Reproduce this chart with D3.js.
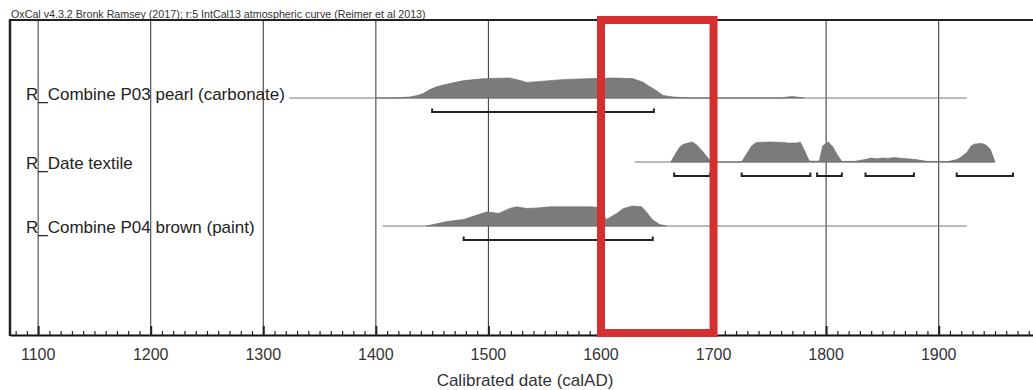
<!DOCTYPE html>
<html>
<head>
<meta charset="utf-8">
<script src="https://cdn.jsdelivr.net/npm/d3@7"></script>
<style>
  html, body { margin: 0; padding: 0; background: #fff; }
  svg { display: block; font-family: "Liberation Sans", Arial, sans-serif; }
</style>
</head>
<body>
<svg id="chart" width="1033" height="390"></svg>
<script>
// ---------- data ----------
const title = "OxCal v4.3.2 Bronk Ramsey (2017); r:5 IntCal13 atmospheric curve (Reimer et al 2013)";
const axisTitle = "Calibrated date (calAD)";
const rowLabels = ["R_Combine P03 pearl (carbonate)", "R_Date textile", "R_Combine P04 brown (paint)"];
const majorTicks = [1100, 1200, 1300, 1400, 1500, 1600, 1700, 1800, 1900];
const highlightRange = [1600, 1700];

// row 1: R_Combine P03 pearl (carbonate)
const p03Span = [1323, 1925];
const p03Years = [1400, 1415, 1430, 1437, 1442, 1448, 1454, 1463, 1477, 1492, 1501, 1519, 1528, 1534, 1546, 1557, 1569, 1593, 1610, 1628, 1637, 1643, 1649, 1655, 1664, 1679,
                  1760, 1765, 1770, 1775, 1780];
const p03Prob  = [0, 0, 0.05, 0.13, 0.22, 0.42, 0.56, 0.69, 0.86, 0.95, 0.98, 1.0, 0.88, 0.78, 0.83, 0.88, 0.93, 0.97, 1.0, 0.97, 0.8, 0.58, 0.38, 0.13, 0.05, 0,
                  0, 0.05, 0.07, 0.04, 0];
const p03Ranges = [[1450, 1647]];

// row 2: R_Date textile
const textileSpan = [1630, 1950];
const textileYears = [1662, 1665, 1670, 1673, 1676, 1681, 1685, 1690, 1695, 1698,
                      1725, 1729, 1734, 1738, 1750, 1762, 1766, 1774, 1777, 1781, 1785,
                      1790, 1794, 1797, 1802, 1806, 1810, 1814,
                      1825, 1836, 1840, 1845, 1850, 1855, 1860, 1866, 1872, 1880, 1890,
                      1908, 1916, 1919, 1925, 1929, 1932, 1938, 1942, 1946, 1950];
const textileProb  = [0, 0.3, 0.75, 0.88, 0.93, 1.0, 0.85, 0.55, 0.2, 0,
                      0, 0.38, 0.81, 0.98, 1.0, 0.98, 0.95, 0.95, 1.0, 0.55, 0.05,
                      0.04, 0.05, 0.81, 1.0, 0.75, 0.35, 0.03,
                      0.03, 0.14, 0.2, 0.16, 0.2, 0.18, 0.22, 0.19, 0.16, 0.12, 0.03,
                      0.02, 0.12, 0.21, 0.47, 0.81, 0.9, 0.93, 0.85, 0.62, 0];
const textileRanges = [[1665, 1697], [1725, 1786], [1792, 1814], [1835, 1878], [1916, 1966]];

// row 3: R_Combine P04 brown (paint)
const p04Span = [1406, 1925];
const p04Years = [1445, 1463, 1478, 1490, 1499, 1509, 1519, 1525, 1534, 1543, 1555, 1590, 1599, 1603, 1605, 1614, 1620, 1628, 1636, 1640, 1646, 1652, 1658];
const p04Prob  = [0, 0.22, 0.33, 0.55, 0.71, 0.63, 0.88, 0.96, 0.88, 0.9, 0.96, 0.96, 0.93, 0.47, 0.33, 0.63, 0.88, 1.0, 0.96, 0.72, 0.3, 0.08, 0];
const p04Ranges = [[1478, 1646]];

const rows = [
  { label: rowLabels[0], span: p03Span, years: p03Years, prob: p03Prob, ranges: p03Ranges, labelDy: 1.8 },
  { label: rowLabels[1], span: textileSpan, years: textileYears, prob: textileProb, ranges: textileRanges, labelDy: 7 },
  { label: rowLabels[2], span: p04Span, years: p04Years, prob: p04Prob, ranges: p04Ranges, labelDy: 7 }
];

// ---------- layout ----------
const svg = d3.select("#chart");
const frameLeft = 10, frameTop = 20, frameBottom = 335;
const x = d3.scaleLinear().domain([1075, 1990]).range([10, 1040]);
const yRow = d3.scalePoint().domain(rowLabels).range([98, 226]);
const h = d3.scaleLinear().domain([0, 1]).range([0, 20]);

// title
svg.append("text")
  .attr("x", 11).attr("y", 17.5)
  .attr("font-size", 10.7).attr("fill", "#333")
  .text(title);

// grid lines
svg.append("g").selectAll("line").data(majorTicks).join("line")
  .attr("x1", d => x(d)).attr("x2", d => x(d))
  .attr("y1", frameTop).attr("y2", frameBottom)
  .attr("stroke", "#444").attr("stroke-width", 1.1);

// rows
rows.forEach(r => {
  const y0 = yRow(r.label);
  const g = svg.append("g");
  // baseline
  g.append("line")
    .attr("x1", x(r.span[0])).attr("x2", x(r.span[1]))
    .attr("y1", y0).attr("y2", y0)
    .attr("stroke", "#777").attr("stroke-width", 1);
  // distribution
  const pts = r.years.map((yr, i) => [yr, r.prob[i]]);
  const area = d3.area()
    .x(d => x(d[0]))
    .y0(y0)
    .y1(d => y0 - h(d[1]));
  g.append("path").datum(pts)
    .attr("d", area)
    .attr("fill", "#7b7b7b")
    .attr("stroke", "#666").attr("stroke-width", 0.6);
  // ranges (brackets)
  const by = y0 + 14;
  r.ranges.forEach(rg => {
    g.append("path")
      .attr("d", `M${x(rg[0])},${by - 3.5}V${by}H${x(rg[1])}V${by - 3.5}`)
      .attr("fill", "none").attr("stroke", "#222").attr("stroke-width", 2);
  });
  // label
  g.append("text")
    .attr("x", 26).attr("y", y0 + r.labelDy)
    .attr("font-size", 17).attr("fill", "#222")
    .text(r.label);
});

// frame
svg.append("line").attr("x1", frameLeft).attr("x2", 1040).attr("y1", frameTop).attr("y2", frameTop)
  .attr("stroke", "#222").attr("stroke-width", 2);
svg.append("line").attr("x1", frameLeft).attr("x2", frameLeft).attr("y1", frameTop - 1).attr("y2", frameBottom + 1)
  .attr("stroke", "#222").attr("stroke-width", 2.5);

// bottom axis with minor ticks
const axis = d3.axisBottom(x)
  .tickValues(d3.range(1080, 1990, 10))
  .tickSizeInner(-4).tickSizeOuter(0)
  .tickFormat("");
const axG = svg.append("g").attr("transform", `translate(0,${frameBottom})`).call(axis);
axG.select(".domain").attr("stroke", "#111").attr("stroke-width", 2);
axG.selectAll(".tick line").attr("stroke", "#222").attr("stroke-width", 1.2)
  .filter(d => d % 100 === 0).attr("y2", -9).attr("stroke-width", 2);

// major tick labels
svg.append("g").selectAll("text").data(majorTicks).join("text")
  .attr("x", d => x(d)).attr("y", 360)
  .attr("text-anchor", "middle").attr("font-size", 16).attr("fill", "#333")
  .text(d => d);

// axis title
svg.append("text")
  .attr("x", 525).attr("y", 386)
  .attr("text-anchor", "middle").attr("font-size", 17).attr("fill", "#333")
  .text(axisTitle);

// highlight rectangle
svg.append("rect")
  .attr("x", x(highlightRange[0])).attr("y", 20)
  .attr("width", x(highlightRange[1]) - x(highlightRange[0]))
  .attr("height", 313)
  .attr("fill", "none").attr("stroke", "#d5302f").attr("stroke-width", 8);
</script>
</body>
</html>
